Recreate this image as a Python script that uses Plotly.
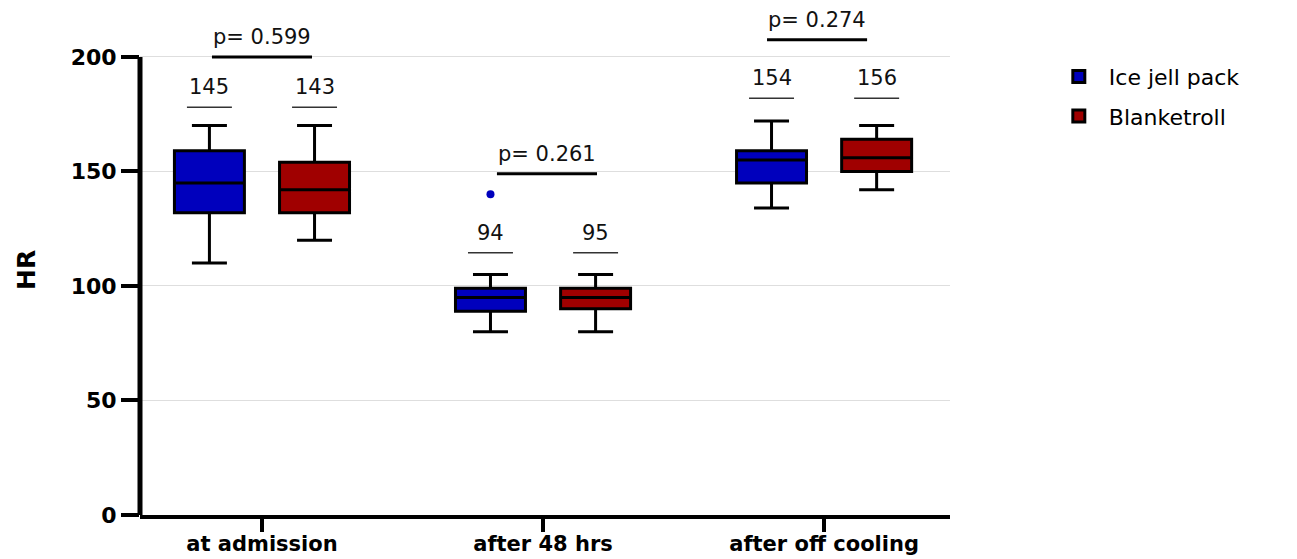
import plotly.graph_objects as go

# ---------------- data ----------------
categories = ["at admission", "after 48 hrs", "after off cooling"]

ice_upper = [170, 105, 172]
ice_q3 = [159, 99, 159]
ice_median = [145, 95, 155]
ice_q1 = [132, 89, 145]
ice_lower = [110, 80, 134]

blanket_upper = [170, 105, 170]
blanket_q3 = [154, 99, 164]
blanket_median = [142, 95, 156]
blanket_q1 = [132, 90, 150]
blanket_lower = [120, 80, 142]

ice_outlier_cat = [1]
ice_outlier_val = [140]

ice_labels = [145, 94, 154]
blanket_labels = [143, 95, 156]
p_values = ["0.599", "0.261", "0.274"]

# ---------------- layout constants ----------------
OFFSET = 0.187
BOX_W = 0.249
label_line_y = [178, 114.5, 182]
p_line_y = [200, 149, 207.5]
p_line_shift = [0.0, 0.014, -0.025]

BLUE = "#0000bd"
RED = "#a00000"
FONT = "DejaVu Sans"

idx = list(range(len(categories)))
ice_x = [i - OFFSET for i in idx]
bl_x = [i + OFFSET for i in idx]

fig = go.Figure()

fig.add_trace(go.Box(
    name="Ice jell pack", x=ice_x,
    q1=ice_q1, median=ice_median, q3=ice_q3,
    lowerfence=ice_lower, upperfence=ice_upper,
    width=BOX_W, whiskerwidth=0.5, fillcolor=BLUE,
    line=dict(color="black", width=3), boxpoints=False,
    legendgroup="a",
))
fig.add_trace(go.Box(
    name="Blanketroll", x=bl_x,
    q1=blanket_q1, median=blanket_median, q3=blanket_q3,
    lowerfence=blanket_lower, upperfence=blanket_upper,
    width=BOX_W, whiskerwidth=0.5, fillcolor=RED,
    line=dict(color="black", width=3), boxpoints=False,
    legendgroup="b",
))
fig.add_trace(go.Scatter(
    x=[c - OFFSET for c in ice_outlier_cat], y=ice_outlier_val,
    mode="markers", marker=dict(color=BLUE, size=8),
    showlegend=False, hoverinfo="skip",
))

shapes = []
annotations = []
for i in idx:
    for xc, lab in ((ice_x[i], ice_labels[i]), (bl_x[i], blanket_labels[i])):
        shapes.append(dict(type="line", xref="x", yref="y",
                           x0=xc - 0.08, x1=xc + 0.08,
                           y0=label_line_y[i], y1=label_line_y[i],
                           line=dict(color="#333333", width=1.5)))
        annotations.append(dict(x=xc, y=label_line_y[i], xref="x", yref="y",
                                text=str(lab), showarrow=False,
                                yanchor="bottom", yshift=6,
                                font=dict(family=FONT, size=21, color="#111111")))
    xm = i + p_line_shift[i]
    shapes.append(dict(type="line", xref="x", yref="y",
                       x0=xm - 0.178, x1=xm + 0.178,
                       y0=p_line_y[i], y1=p_line_y[i],
                       line=dict(color="black", width=3)))
    annotations.append(dict(x=xm, y=p_line_y[i], xref="x", yref="y",
                            text="p= " + p_values[i], showarrow=False,
                            yanchor="bottom", yshift=6,
                            font=dict(family=FONT, size=21, color="#111111")))

# y axis line (only up to 200)
shapes.append(dict(type="line", xref="paper", yref="y", x0=0, x1=0, y0=0, y1=200,
                   line=dict(color="black", width=5)))

# y axis title
annotations.append(dict(x=-0.141, y=0.509, xref="paper", yref="paper",
                        text="<b>HR</b>", showarrow=False, textangle=-90,
                        xanchor="center", yanchor="middle",
                        font=dict(family=FONT, size=25, color="black")))

fig.update_layout(
    width=1289, height=551,
    margin=dict(l=132, r=347, t=26, b=44),
    paper_bgcolor="white", plot_bgcolor="white",
    shapes=shapes, annotations=annotations,
    showlegend=True,
    legend=dict(x=1.122, y=0.955, xanchor="left", yanchor="top",
                font=dict(family=FONT, size=22, color="black"),
                traceorder="grouped", tracegroupgap=8, itemwidth=50),
    xaxis=dict(range=[-0.434, 2.448], tickvals=idx, ticktext=categories,
               showgrid=False, zeroline=False, automargin=False,
               showline=True, linecolor="black", linewidth=4,
               ticks="outside", ticklen=13, tickwidth=4, tickcolor="black",
               ticklabelstandoff=-6,
               tickfont=dict(family=FONT, size=21, color="black", weight="bold")),
    yaxis=dict(range=[0, 210], tickvals=[0, 50, 100, 150, 200],
               showgrid=True, gridcolor="#dedede", gridwidth=1,
               zeroline=False, showline=False, automargin=False,
               ticks="outside", ticklen=18, tickwidth=4, tickcolor="black",
               tickfont=dict(family=FONT, size=22, color="black", weight="bold")),
)

fig.write_html("out.html")
